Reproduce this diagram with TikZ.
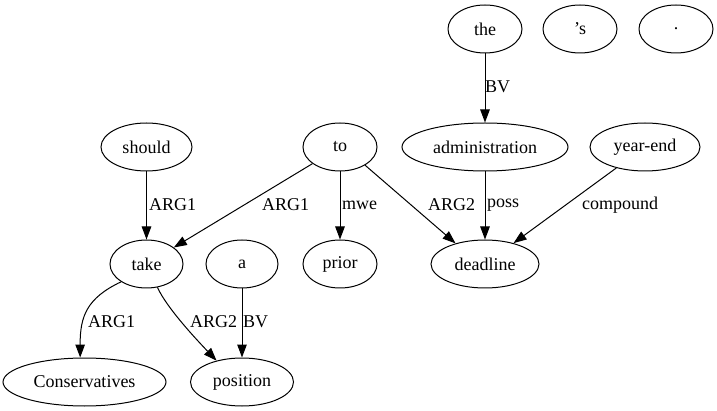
\documentclass[tikz,border=0pt]{standalone}
\usepackage{fontspec}
\setmainfont{Liberation Serif}
\usetikzlibrary{shapes.geometric,arrows.meta}
\begin{document}
\begin{tikzpicture}[x=1pt,y=-1pt,
  every node/.style={font=\fontsize{18}{21}\selectfont},
  tok/.style={draw, ellipse, line width=1pt, inner sep=0pt, minimum height=48pt, minimum width=#1},
  tok/.default=74pt,
  arr/.style={draw, line width=1pt, -{Triangle[length=13pt,width=9.5pt]}},
  lab/.style={anchor=west, inner sep=0pt}]
\useasboundingbox (0,0) rectangle (717,411);
% nodes
\node[tok] (the) at (485,29) {the};
\node[tok] (aps) at (580,29) {’s};
\node[tok] (dot) at (676,29) {.};
\node[tok=91pt] (should) at (146.5,147) {should};
\node[tok] (to) at (340,147) {to};
\node[tok=166pt] (administration) at (485,147) {administration};
\node[tok=110pt] (yearend) at (645,147) {year-end};
\node[tok=73pt] (take) at (146.5,264) {take};
\node[tok=72pt] (a) at (242,264) {a};
\node[tok] (prior) at (340,264) {prior};
\node[tok=108pt] (deadline) at (485,264) {deadline};
\node[tok=163pt] (cons) at (84.5,382) {Conservatives};
\node[tok=103pt] (position) at (242,382) {position};
% edges
\draw[arr] (the) -- (administration);
\draw[arr] (should) -- (take);
\draw[arr] (to) -- (take);
\draw[arr] (to) -- (prior);
\draw[arr] (to.-36) -- (deadline.145);
\draw[arr] (administration) -- (deadline);
\draw[arr] (yearend) -- (deadline);
\draw[arr] (take.215) .. controls (87,298) and (80,316) .. (cons.100);
\draw[arr] (take.-65) .. controls (167,308) and (195,338) .. (position.140);
\draw[arr] (a) -- (position);
% labels
\node[lab] (l1) at (485,87) {BV};
\node[lab] (l2) at (149,205) {ARG1};
\node[lab] (l3) at (262,205) {ARG1};
\node[lab] (l4) at (342,205) {mwe};
\node[lab] (l5) at (428,205) {ARG2};
\node[lab] (l6) at (487,205) {poss};
\node[lab] (l7) at (582,205) {compound};
\node[lab] (l8) at (88,322) {ARG1};
\node[lab] (l9) at (190,322) {ARG2};
\node[lab] (l10) at (243,322) {BV};
\end{tikzpicture}
\end{document}
